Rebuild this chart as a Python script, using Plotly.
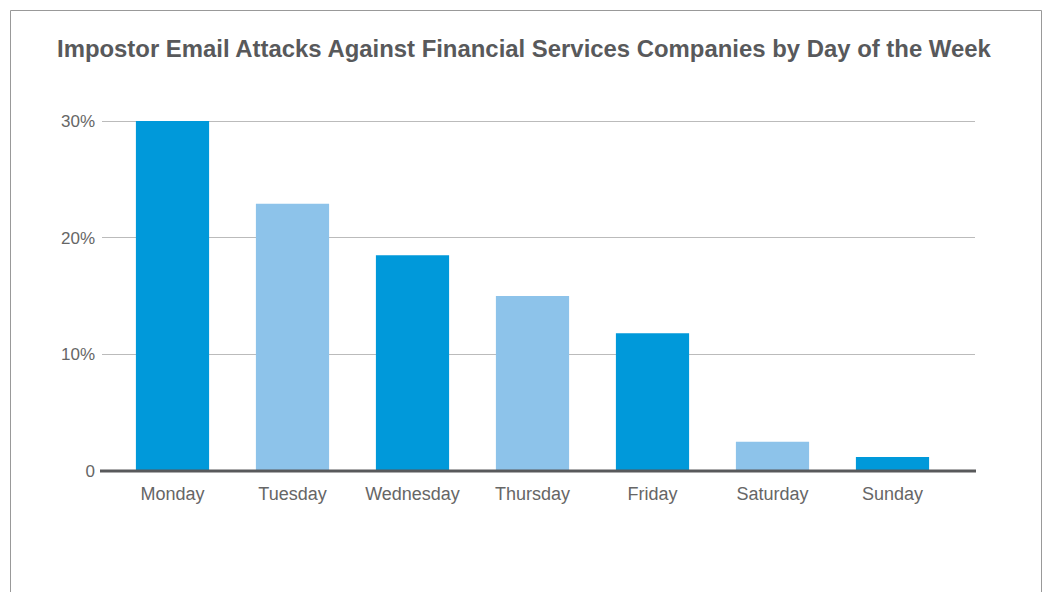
import plotly.graph_objects as go

days = ["Monday", "Tuesday", "Wednesday", "Thursday", "Friday", "Saturday", "Sunday"]
values = [30.0, 22.9, 18.5, 15.0, 11.8, 2.5, 1.2]
colors = ["#0099DA", "#8DC3EA", "#0099DA", "#8DC3EA", "#0099DA", "#8DC3EA", "#0099DA"]
tick_vals = [0, 10, 20, 30]
tick_text = ["0", "10%", "20%", "30%"]
title = "Impostor Email Attacks Against Financial Services Companies by Day of the Week"

W, H = 1045, 592
ml, mr, mt, mb = 102, 70, 120, 121
pw = W - ml - mr
ph = H - mt - mb

fig = go.Figure(go.Bar(x=days, y=values, marker=dict(color=colors, line=dict(width=0)),
                       width=0.61, hoverinfo="x+y"))

fig.update_layout(
    width=W, height=H,
    margin=dict(l=ml, r=mr, t=mt, b=mb),
    paper_bgcolor="white", plot_bgcolor="white",
    font=dict(family="Liberation Sans, Arial, sans-serif", color="#666666", size=17),
    title=dict(text="<b>" + title + "</b>", x=57 / W, xanchor="left", xref="container",
               y=1 - 49 / H, yanchor="middle", yref="container",
               font=dict(size=23.9, color="#58595B")),
    showlegend=False,
)
fig.update_xaxes(range=[-0.5875, 6.6875], showline=False, ticks="", showgrid=False,
                 tickfont=dict(size=18, color="#666666"), ticklabelstandoff=10)
fig.update_yaxes(range=[0, 30.09], tickvals=tick_vals, ticktext=tick_text, showgrid=True,
                 gridcolor="#BBBBBB", gridwidth=1, zeroline=False, showline=False,
                 ticks="", tickfont=dict(size=17, color="#666666"), ticklabelstandoff=6)

# baseline
fig.add_shape(type="line", xref="paper", yref="paper", x0=-2 / pw, x1=1 + 1 / pw, y0=0, y1=0,
              line=dict(color="#58595B", width=3), layer="above")
# outer border
fig.add_shape(type="rect", xref="paper", yref="paper",
              x0=(10.5 - ml) / pw, x1=(1041.5 - ml) / pw,
              y0=(H - mt - 620) / ph, y1=(H - mb - 10.5) / ph,
              line=dict(color="#999999", width=1), fillcolor="rgba(0,0,0,0)", layer="below")

fig.write_html("out.html")
